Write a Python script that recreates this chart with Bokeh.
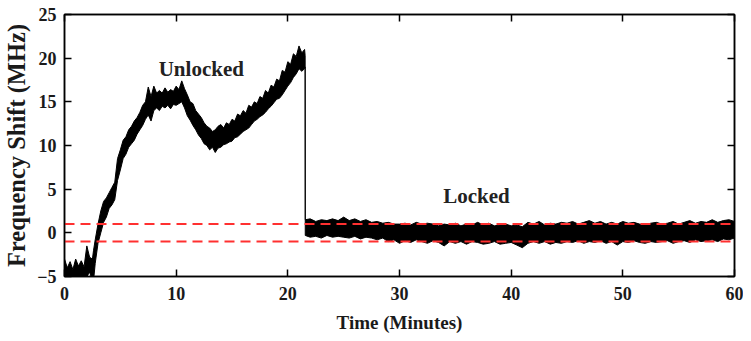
from bokeh.plotting import figure
from bokeh.models import Range1d, LinearAxis, FixedTicker, Label
from bokeh.embed import file_html
from bokeh.resources import INLINE

# ---- data (minutes, MHz): lower / upper edge of the noisy trace ----
time_min = [
    0.0, 0.25, 0.5, 0.75, 1.0, 1.25, 1.5, 1.75, 2.0, 2.25,
    2.5, 2.6, 2.75, 3.0, 3.25, 3.5, 3.75, 4.0, 4.25, 4.5,
    4.75, 5.0, 5.25, 5.5, 5.75, 6.0, 6.25, 6.5, 6.75, 7.0,
    7.25, 7.5, 7.75, 8.0, 8.25, 8.5, 8.75, 9.0, 9.25, 9.5,
    9.75, 10.0, 10.25, 10.5, 10.75, 11.0, 11.25, 11.5, 11.75, 12.0,
    12.25, 12.5, 12.75, 13.0, 13.25, 13.5, 13.75, 14.0, 14.25, 14.5,
    14.75, 15.0, 15.25, 15.5, 15.75, 16.0, 16.25, 16.5, 16.75, 17.0,
    17.25, 17.5, 17.75, 18.0, 18.25, 18.5, 18.75, 19.0, 19.25, 19.5,
    19.75, 20.0, 20.25, 20.5, 20.75, 21.0, 21.25, 21.5, 21.55, 21.56,
    22.0, 22.5, 23.0, 23.5, 24.0, 24.5, 25.0, 25.5, 26.0, 26.5,
    27.0, 27.5, 28.0, 28.5, 29.0, 29.5, 30.0, 30.5, 31.0, 31.5,
    32.0, 32.5, 33.0, 33.5, 34.0, 34.5, 35.0, 35.5, 36.0, 36.5,
    37.0, 37.5, 38.0, 38.5, 39.0, 39.5, 40.0, 40.5, 41.0, 41.5,
    42.0, 42.5, 43.0, 43.5, 44.0, 44.5, 45.0, 45.5, 46.0, 46.5,
    47.0, 47.5, 48.0, 48.5, 49.0, 49.5, 50.0, 50.5, 51.0, 51.5,
    52.0, 52.5, 53.0, 53.5, 54.0, 54.5, 55.0, 55.5, 56.0, 56.5,
    57.0, 57.5, 58.0, 58.5, 59.0, 59.5, 60.0]

shift_low = [
    -5.5, -5.5, -5.5, -5.5, -5.5, -5.5, -5.3, -5.5, -5.0, -4.5,
    -5.5, -5.5, -3.5, -1.2, 0.0, 1.2, 1.8, 2.8, 3.2, 3.8,
    6.0, 7.2, 8.5, 9.0, 9.8, 10.2, 10.6, 11.3, 11.8, 12.3,
    13.0, 13.5, 12.8, 14.0, 14.3, 14.0, 14.5, 14.3, 14.6, 14.2,
    14.7, 14.6, 14.8, 15.0, 14.3, 13.4, 12.9, 12.3, 11.8, 11.2,
    10.8, 10.2, 10.0, 9.5, 9.8, 9.2, 9.7, 9.8, 10.1, 10.2,
    10.4, 10.5, 10.9, 11.0, 11.3, 11.6, 11.8, 12.0, 12.4, 12.8,
    13.0, 13.3, 13.5, 13.8, 14.2, 14.5, 14.9, 15.3, 15.4, 15.8,
    16.3, 16.8, 17.2, 17.8, 18.2, 18.8, 18.5, 18.8, 19.0, -0.3,
    -0.5, -0.4, -0.6, -0.3, -0.5, -0.4, -0.5, -0.6, -0.4, -0.7,
    -0.5, -0.6, -0.8, -0.6, -1.0, -0.8, -1.2, -0.9, -1.1, -0.8,
    -1.0, -1.2, -0.9, -1.1, -1.5, -1.0, -1.2, -1.0, -1.3, -1.0,
    -1.1, -1.3, -1.2, -1.0, -1.3, -1.2, -1.1, -1.4, -1.7, -1.2,
    -1.0, -1.2, -1.0, -1.3, -1.1, -1.2, -1.0, -1.1, -0.9, -1.2,
    -1.0, -1.1, -0.9, -1.2, -1.0, -1.4, -1.0, -1.1, -0.9, -1.1,
    -1.2, -1.0, -1.1, -1.0, -0.9, -1.2, -1.0, -0.9, -1.1, -0.8,
    -1.0, -0.9, -0.8, -1.0, -0.7, -0.8, -0.6]

shift_high = [
    -3.0, -4.0, -3.3, -4.2, -3.0, -3.8, -3.2, -3.9, -1.5, -2.8,
    -3.0, -2.0, -0.8, 1.0, 2.5, 3.6, 4.0, 4.6, 5.2, 5.8,
    8.5, 9.5, 10.6, 11.0, 11.8, 12.2, 12.8, 13.2, 13.8, 14.6,
    15.0, 16.7, 15.6, 16.8, 16.0, 16.3, 16.0, 16.6, 16.1, 16.4,
    16.2, 16.8, 16.4, 17.4, 16.5, 15.8, 15.0, 14.8, 14.0, 13.6,
    13.2, 12.6, 12.2, 12.0, 11.6, 11.8, 12.2, 12.4, 12.0, 12.6,
    12.4, 13.0, 12.8, 13.6, 13.4, 14.0, 13.7, 14.6, 14.4, 15.0,
    14.8, 15.6, 15.4, 16.3, 16.0, 16.9, 16.7, 17.6, 17.4, 18.6,
    18.4, 19.6, 19.3, 20.5, 20.2, 21.4, 20.6, 21.0, 20.3, 1.5,
    1.6, 1.3, 1.5, 1.4, 1.6, 1.4, 1.8, 1.4, 1.6, 1.3,
    1.5, 1.2, 1.3, 1.1, 1.2, 1.0, 1.0, 1.1, 0.9, 1.2,
    1.0, 1.1, 1.0, 0.8, 1.0, 0.9, 1.1, 0.8, 1.0, 0.9,
    1.2, 0.9, 1.1, 0.8, 0.9, 1.0, 0.8, 0.9, 0.7, 1.2,
    1.0, 1.3, 0.9, 1.1, 1.0, 1.2, 1.1, 1.3, 1.0, 1.2,
    1.4, 1.1, 1.3, 1.0, 1.2, 1.0, 1.3, 1.1, 1.2, 1.0,
    0.9, 1.1, 1.2, 1.0, 1.1, 1.3, 1.0, 1.2, 1.4, 1.1,
    1.3, 1.2, 1.5, 1.2, 1.4, 1.5, 1.3]

lock_bounds = [1.0, -1.0]
x_ticks = [0, 10, 20, 30, 40, 50, 60]
y_ticks = [-5, 0, 5, 10, 15, 20, 25]
annotations = [("Unlocked", 12.25, 18.8), ("Locked", 36.9, 4.2)]

FONT = "Liberation Serif"

p = figure(width=743, height=338, output_backend="svg", toolbar_location=None,
           x_range=Range1d(0, 60), y_range=Range1d(-5, 25),
           min_border_left=63, min_border_right=9, min_border_top=14, min_border_bottom=62)
p.background_fill_color = "white"
p.border_fill_color = "white"
p.outline_line_color = "black"
p.outline_line_width = 1.5
p.xgrid.visible = False
p.ygrid.visible = False

# trace (noisy band)
p.varea(x=time_min, y1=shift_low, y2=shift_high, fill_color="black")
p.line(x=time_min, y=shift_low, line_color="black", line_width=1)
p.line(x=time_min, y=shift_high, line_color="black", line_width=1)

# lock threshold lines
for b in lock_bounds:
    p.line(x=[0, 60], y=[b, b], line_color="#ff3030", line_width=2, line_dash="10 6")

xa = p.xaxis[0]
xa.ticker = FixedTicker(ticks=x_ticks)
ya = p.yaxis[0]
ya.ticker = FixedTicker(ticks=y_ticks)
for ax in (xa, ya):
    ax.axis_line_color = "black"
    ax.axis_line_width = 1.5
    ax.major_tick_in = 7
    ax.major_tick_out = 0
    ax.major_tick_line_width = 1.5
    ax.minor_tick_line_color = None
    ax.major_label_text_font = FONT
    ax.major_label_text_font_style = "bold"
    ax.major_label_text_font_size = "18px"
    ax.major_label_text_color = "#1a1a1a"
    ax.axis_label_text_font = FONT
    ax.axis_label_text_font_style = "bold"
    ax.axis_label_text_color = "#1a1a1a"
xa.axis_label = "Time (Minutes)"
ya.axis_label = "Frequency Shift (MHz)"
xa.axis_label_text_font_size = "19px"
ya.axis_label_text_font_size = "24.5px"
xa.major_label_standoff = 10
ya.major_label_standoff = 8
xa.axis_label_standoff = 9
ya.axis_label_standoff = 4

top = LinearAxis(ticker=FixedTicker(ticks=x_ticks),
                 major_tick_in=7, major_tick_out=0, minor_tick_line_color=None,
                 axis_line_width=1.5, major_tick_line_width=1.5,
                 major_label_standoff=0, major_label_text_font_size="1px")
right = LinearAxis(ticker=FixedTicker(ticks=y_ticks),
                   major_tick_in=7, major_tick_out=0, minor_tick_line_color=None,
                   axis_line_width=1.5, major_tick_line_width=1.5,
                   major_label_standoff=0, major_label_text_font_size="1px")
top.major_label_overrides = {t: "" for t in x_ticks}
right.major_label_overrides = {t: "" for t in y_ticks}
p.add_layout(top, "above")
p.add_layout(right, "right")

for txt, xx, yy in annotations:
    p.add_layout(Label(x=xx, y=yy, text=txt, text_font=FONT, text_font_style="bold",
                       text_font_size="21px", text_align="center", text_baseline="middle",
                       text_color="#222222"))

open("out.html", "w").write(file_html(p, INLINE))
